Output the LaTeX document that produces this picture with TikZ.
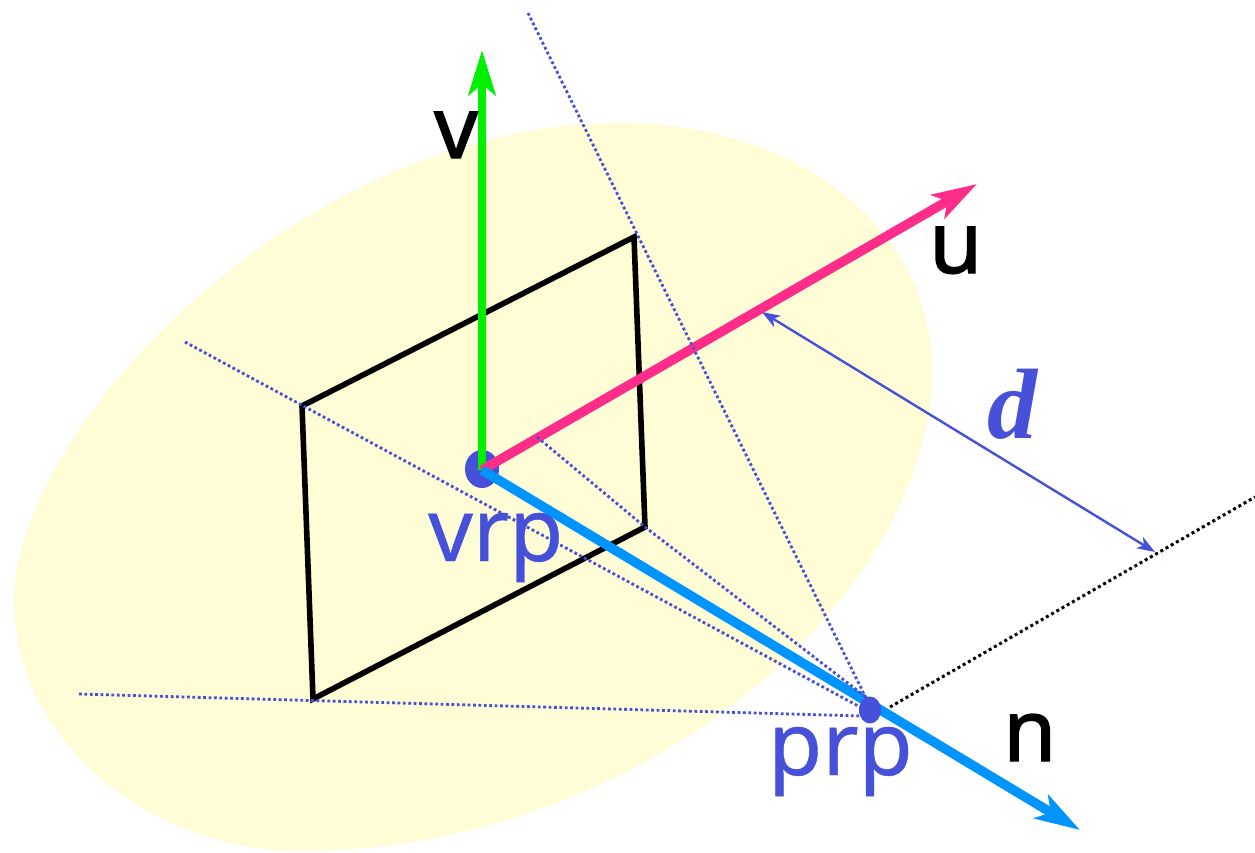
\documentclass[tikz,border=0pt]{standalone}
\usepackage{fontspec}
\setmainfont{Noto Sans}
\newfontfamily\heavyfont[FakeBold=1.6]{Noto Sans}
\newfontfamily\semifont[FakeBold=0.5]{Noto Sans}
\newfontfamily\dfont{Liberation Serif}
\usetikzlibrary{arrows.meta,shapes.geometric}
\definecolor{blob}{HTML}{FFFDD6}
\definecolor{ind}{HTML}{4650D8}
\definecolor{vgreen}{HTML}{00F000}
\definecolor{upink}{HTML}{FF2D8A}
\definecolor{nblue}{HTML}{0094FF}
\tikzset{
  x=1pt,y=-1pt,
  axis/.style={line width=9.5pt,line cap=butt},
  frame/.style={draw=black,line width=5.6pt,line join=miter},
  dots/.style={draw=ind,line width=2.8pt,line cap=butt,dash pattern=on 2.8pt off 2.6pt},
  blackdots/.style={draw=black,line width=3pt,line cap=butt,dash pattern=on 3pt off 3pt},
  biglabel/.style={inner sep=0pt,anchor=base west,font=\heavyfont\fontsize{86}{86}\selectfont},
  bluelabel/.style={inner sep=0pt,anchor=base west,text=ind,font=\semifont\fontsize{88}{88}\selectfont},
  pointmark/.style={fill=ind,draw=none,inner sep=0pt},
  tiplarge/.style={-{Stealth[length=45pt,width=27pt,inset=11pt]}},
  dimline/.style={ind,line width=2.4pt,{Stealth[length=18pt,width=13pt,inset=5pt]}-{Stealth[length=18pt,width=13pt,inset=5pt]}},
}
\begin{document}
\begin{tikzpicture}
\useasboundingbox (0,0) rectangle (1255,852);
% view plane blob
\fill[blob] (14,600) .. controls (14,430) and (300,123) .. (620,123)
  .. controls (800,123) and (932,230) .. (932,370)
  .. controls (932,590) and (650,851) .. (300,851)
  .. controls (150,851) and (14,740) .. (14,600) -- cycle;
% named points
\coordinate (A) at (302,406);
\coordinate (B) at (634,237);
\coordinate (C) at (645,527);
\coordinate (D) at (313,699);
\coordinate (origin) at (482,470);
\coordinate (vtip) at (482,50);
\coordinate (utip) at (977,184);
\coordinate (ntip) at (1080,830);
\coordinate (a0) at (185,342);
\coordinate (a1) at (860,707);
\coordinate (b0) at (528,13);
\coordinate (b1) at (866,698);
\coordinate (d0) at (79,694);
\coordinate (d1) at (862,716);
\coordinate (c0) at (537,437);
\coordinate (c1) at (866,697);
\coordinate (k0) at (890,707);
\coordinate (k1) at (1255,497);
\coordinate (dimA) at (762,312);
\coordinate (dimB) at (1155,552);
% frame
\draw[frame] (A) -- (B) -- (C) -- (D) -- cycle;
% axes
\node[pointmark,ellipse,minimum width=34pt,minimum height=38pt] (vrp) at (482,469) {};
\draw[axis,line width=8.5pt,vgreen,tiplarge] (origin) -- (vtip);
\draw[axis,upink,tiplarge] (origin) -- (utip);
\draw[axis,nblue,tiplarge] (origin) -- (ntip);
% dotted projectors
\draw[dots] (a0) -- (a1);
\draw[dots] (b0) -- (b1);
\draw[dots] (d0) -- (d1);
\draw[dots] (c0) -- (C) -- (c1);
\draw[blackdots] (k0) -- (k1);
% distance
\draw[dimline] (dimA) -- (dimB);
\node[pointmark,ellipse,minimum width=22pt,minimum height=27pt] (prp) at (870,710) {};
% labels
\node[bluelabel] (vrplabel) at (428,561) {vrp};
\node[bluelabel] (prplabel) at (768,775) {prp};
\node[biglabel] (vlabel) at (434,158) {v};
\node[biglabel] (ulabel) at (929,273) {u};
\node[biglabel] (nlabel) at (1003,761) {n};
\node[inner sep=0pt,anchor=base west,text=ind,font=\dfont\bfseries\itshape\fontsize{100}{100}\selectfont] (dlabel) at (987,438) {d};
\end{tikzpicture}
\end{document}
